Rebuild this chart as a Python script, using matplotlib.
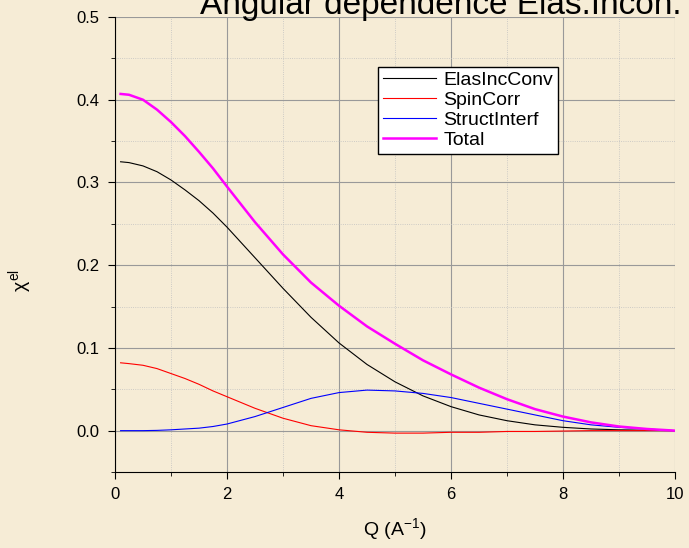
import matplotlib
matplotlib.use("Agg")
import matplotlib.pyplot as plt
from matplotlib.ticker import MultipleLocator

plt.rcParams["font.family"] = ["Liberation Sans", "DejaVu Sans"]
plt.rcParams["mathtext.fontset"] = "custom"
plt.rcParams["mathtext.rm"] = "Liberation Sans"
plt.rcParams["mathtext.it"] = "Liberation Sans"

q = [0.1, 0.25, 0.5, 0.75, 1.0, 1.25, 1.5, 1.75, 2.0, 2.5, 3.0, 3.5, 4.0, 4.5, 5.0, 5.5, 6.0, 6.5, 7.0, 7.5, 8.0, 8.5, 9.0, 9.5, 10.0]
elas = [0.325, 0.324, 0.320, 0.313, 0.303, 0.291, 0.278, 0.263, 0.246, 0.209, 0.172, 0.137, 0.106, 0.080, 0.059, 0.042, 0.029, 0.019, 0.012, 0.007, 0.004, 0.002, 0.001, 0.0005, 0.0]
spin = [0.082, 0.081, 0.079, 0.075, 0.069, 0.063, 0.056, 0.048, 0.041, 0.027, 0.015, 0.006, 0.001, -0.002, -0.003, -0.003, -0.002, -0.002, -0.001, -0.001, -0.0005, 0.0, 0.0, 0.0, 0.0]
struct = [0.0, 0.0, 0.0, 0.0003, 0.001, 0.002, 0.003, 0.005, 0.008, 0.017, 0.028, 0.039, 0.046, 0.049, 0.048, 0.045, 0.040, 0.033, 0.026, 0.019, 0.012, 0.007, 0.004, 0.002, 0.0]
total = [0.407, 0.406, 0.400, 0.388, 0.373, 0.356, 0.337, 0.317, 0.295, 0.252, 0.213, 0.179, 0.151, 0.126, 0.105, 0.085, 0.068, 0.052, 0.038, 0.026, 0.017, 0.010, 0.005, 0.002, 0.0]

bg = "#F6ECD6"
fig = plt.figure(figsize=(6.89, 5.48), dpi=100, facecolor=bg)
ax = fig.add_axes([115/689, 1-472/548, 560/689, 455/548], facecolor=bg)
ax.plot(q, elas, color="black", lw=0.8, label="ElasIncConv")
ax.plot(q, spin, color="red", lw=0.8, label="SpinCorr")
ax.plot(q, struct, color="blue", lw=0.8, label="StructInterf")
ax.plot(q, total, color="magenta", lw=1.8, label="Total")
ax.set_xlim(0, 10)
ax.set_ylim(-0.05, 0.5)
ax.xaxis.set_major_locator(MultipleLocator(2))
ax.xaxis.set_minor_locator(MultipleLocator(1))
ax.set_yticks([0.0, 0.1, 0.2, 0.3, 0.4, 0.5])
ax.yaxis.set_minor_locator(MultipleLocator(0.05))
ax.grid(True, which="major", color="#999999", lw=0.8)
ax.grid(True, which="minor", color="#c0c0c0", lw=0.6, ls=":")
ax.set_axisbelow(True)
for s in ["top", "right"]:
    ax.spines[s].set_visible(False)
ax.tick_params(which="major", direction="out", labelsize=12, pad=6, length=5)
ax.tick_params(which="minor", direction="out", length=3)
ax.set_xlabel("Q (A$^{-1}$)", fontsize=14, labelpad=10)
ax.set_ylabel(r"$\chi^{\mathrm{el}}$", fontsize=14, labelpad=28)
ax.yaxis.set_label_coords(-0.145, 0.42)
ax.legend(loc="upper left", bbox_to_anchor=(0.453, 0.912), fontsize=14, fancybox=False,
          edgecolor="black", framealpha=1, handlelength=2.7, borderpad=0.25, labelspacing=0.12,
          handletextpad=0.4)
fig.text(0.64, 0.99, "Angular dependence Elas.Incoh.", fontsize=24, ha="center", va="center")
fig.savefig("out.png", facecolor=bg)
